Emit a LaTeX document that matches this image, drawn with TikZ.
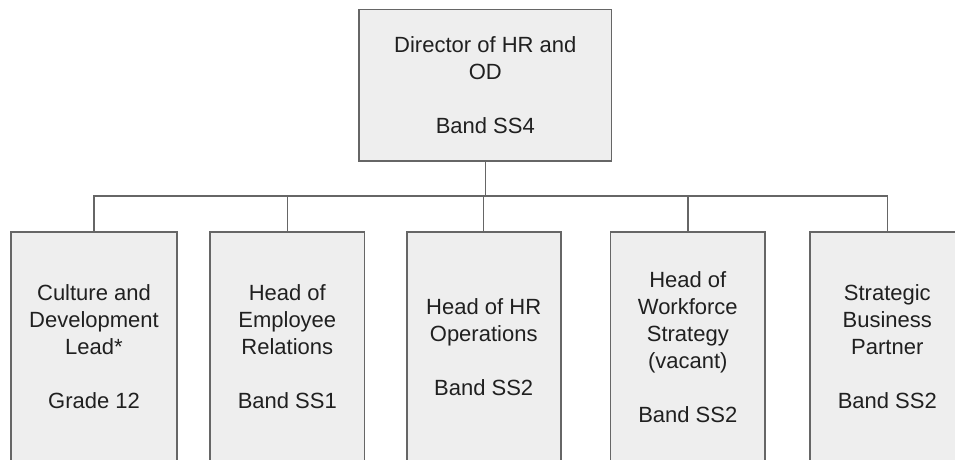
\documentclass[tikz,border=0pt]{standalone}
\usepackage{fontspec}
\setmainfont{Liberation Sans}
\definecolor{boxfill}{HTML}{EEEEEE}
\definecolor{boxline}{HTML}{666666}
\definecolor{txt}{HTML}{202020}
\begin{document}
\begin{tikzpicture}[x=1pt,y=-1pt,
  orgbox/.style={draw=boxline,line width=1.6pt,fill=boxfill,inner sep=0pt,
    align=center,text=txt,font=\fontsize{22}{27}\selectfont},
  lowbox/.style={orgbox,minimum height=230pt},
  link/.style={draw=boxline,line width=1.4pt}]
\useasboundingbox (0,0) rectangle (955,460);
\clip (0,0) rectangle (955,460);
\node[orgbox,minimum width=252.7pt,minimum height=151.7pt] (top) at (485.3,85.2)
  {Director of HR and\\OD\\[27pt]Band SS4};
\node[lowbox,minimum width=165.7pt] (b1) at (94,347)
  {Culture and\\Development\\Lead*\\[27pt]Grade 12};
\node[lowbox,minimum width=154.3pt] (b2) at (287.3,347)
  {Head of\\Employee\\Relations\\[27pt]Band SS1};
\node[lowbox,minimum width=154pt] (b3) at (483.7,347)
  {Head of HR\\Operations\\[27pt]Band SS2};
\node[lowbox,minimum width=154.3pt] (b4) at (687.8,347)
  {Head of\\Workforce\\Strategy\\(vacant)\\[27pt]Band SS2};
\node[lowbox,minimum width=154.6pt] (b5) at (887.3,347)
  {Strategic\\Business\\Partner\\[27pt]Band SS2};
\coordinate (bus) at (485.3,196);
\draw[link] (top.south) -- (bus);
\foreach \b in {b1,b2,b3,b4,b5} {
  \draw[link] (bus) -| (\b.north);
}
\end{tikzpicture}
\end{document}
